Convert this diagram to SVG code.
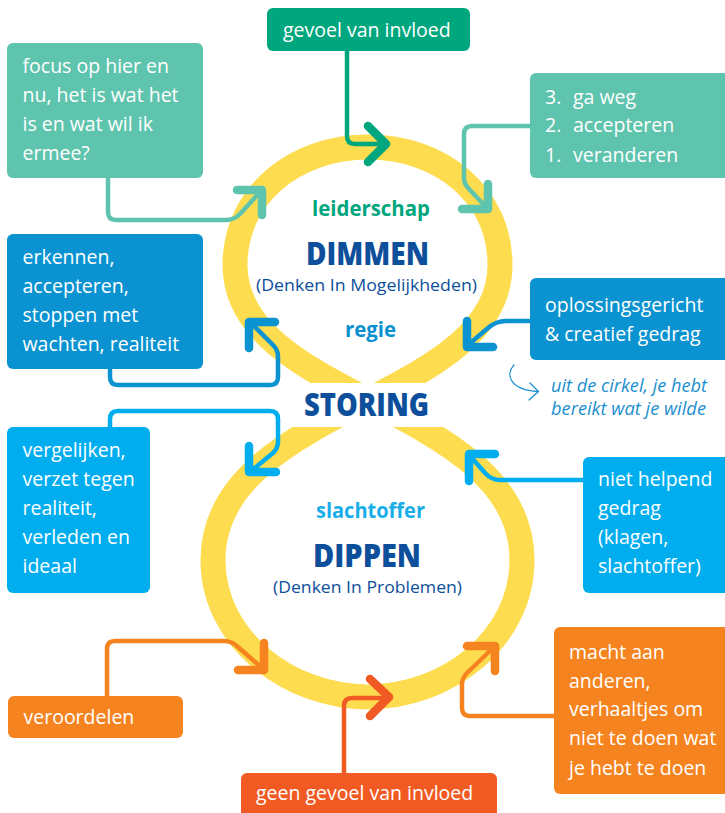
<svg xmlns="http://www.w3.org/2000/svg" width="725" height="813" viewBox="0 0 725 813">
<style>
text{font-family:"Open Sans","Noto Sans",sans-serif}
.bt{fill:#fff;font-size:19.5px;font-weight:500}
.ring{fill:none;stroke:#fddd4f;stroke-width:25}
.ln{fill:none;stroke-width:4.5;stroke-linecap:round;stroke-linejoin:round}
.ch{fill:none;stroke-width:8.5;stroke-linecap:round;stroke-linejoin:round}
.title{fill:#0d4f9b;font-weight:800;font-size:31px;text-anchor:middle}
.sub{fill:#0d4f9b;font-size:17px;font-weight:500;text-anchor:middle}
.lab{font-weight:bold;font-size:20.5px;text-anchor:middle}
.note{fill:#1b8fd0;font-style:italic;font-size:17.5px}
.green{stroke:#00a67d}.teal{stroke:#5fc4ad}.blue{stroke:#0a93d0}.lblue{stroke:#00aeef}.orange{stroke:#f58420}.red{stroke:#f15a22}
</style>
<rect width="725" height="813" fill="#fff"/>
<g id="ring">
<path class="ring" d="M368,400 C300,365 235,330 235,265 C235,195 295,147 368,147 C441,147 500,195 500,265 C500,330 436,365 368,400 Z"/>
<path class="ring" d="M368,400 C290,440 213,480 213,560 C213,640 290,697 368,697 C446,697 522,640 522,560 C522,480 446,440 368,400 Z"/>
<rect x="288" y="383" width="160" height="44" fill="#fff"/>
</g>
<g id="connectors">
<path class="ln green" d="M347,51 V136 Q347,144 355,144 H384"/>
<path class="ch green" d="M368,126 L386,144 L368,162"/>
<path class="ln teal" d="M108,178 V212 Q108,220 116,220 H226 Q234,220 240,214 L260,192"/>
<path class="ch teal" d="M237,190 L262,190 L262,215"/>
<path class="ln teal" d="M530,126 H472 Q464,126 464,134 V178 Q464,184 469,189 L486,207"/>
<path class="ch teal" d="M488,184 L488,209 L462,209"/>
<path class="ln blue" d="M110,369 V377 Q110,385 118,385 H270 Q278,385 278,377 V356 Q278,350 273,345 L251,323"/>
<path class="ch blue" d="M275,322 L249,322 L249,348"/>
<path class="ln blue" d="M530,321 H506 Q496,321 488,328 L468,345"/>
<path class="ch blue" d="M467,321 L467,347 L493,347"/>
<path class="ln lblue" d="M110,427 V419 Q110,411 118,411 H270 Q278,411 278,419 V442 Q278,448 273,453 L251,471"/>
<path class="ch lblue" d="M249,446 L249,472 L276,472"/>
<path class="ln lblue" d="M583,480 H500 Q492,480 486,474 L470,456"/>
<path class="ch lblue" d="M469,481 L469,454 L495,454"/>
<path class="ln orange" d="M107,696 V649 Q107,641 115,641 H224 Q232,641 238,647 L262,668"/>
<path class="ch orange" d="M264,643 L264,670 L238,670"/>
<path class="ln red" d="M344,773 V706 Q344,698 352,698 H388"/>
<path class="ch red" d="M370,679 L389,697 L370,716"/>
<path class="ln orange" d="M554,716 H470 Q462,716 462,708 V684 Q462,678 467,673 L493,648"/>
<path class="ch orange" d="M467,646 L495,646 L495,671"/>
<path d="M514,365 C505,375 510,390 538,391.5" fill="none" stroke="#1b8fd0" stroke-width="1.3" stroke-linecap="round"/>
<path d="M530,383 L538.5,391.5 L529,400" fill="none" stroke="#1b8fd0" stroke-width="1.3" stroke-linecap="round" stroke-linejoin="round"/>
</g>
<g id="center">
<text class="lab" x="371" y="216" fill="#00a67d" textLength="118" lengthAdjust="spacingAndGlyphs">leiderschap</text>
<text class="title" x="367.5" y="265" textLength="123" lengthAdjust="spacingAndGlyphs">DIMMEN</text>
<text class="sub" x="366.5" y="290.5" textLength="221" lengthAdjust="spacingAndGlyphs">(Denken In Mogelijkheden)</text>
<text class="lab" x="370.5" y="336.5" fill="#0a8fd0" textLength="51" lengthAdjust="spacingAndGlyphs">regie</text>
<text class="title" x="366.5" y="416" textLength="125" lengthAdjust="spacingAndGlyphs">STORING</text>
<text class="lab" x="370.5" y="518" fill="#1aaee8" textLength="109" lengthAdjust="spacingAndGlyphs">slachtoffer</text>
<text class="title" x="367" y="567" textLength="108" lengthAdjust="spacingAndGlyphs">DIPPEN</text>
<text class="sub" x="367.5" y="592.5" textLength="189" lengthAdjust="spacingAndGlyphs">(Denken In Problemen)</text>
</g>
<g id="gevoel">
<rect x="267" y="8" width="203" height="43" rx="6" fill="#00a67d"/>
<text class="bt" x="283" y="36.5">gevoel van invloed</text>
</g>
<g id="focus">
<rect x="7" y="43" width="196" height="135" rx="6" fill="#5fc4ad"/>
<text class="bt" x="22.5" y="72.5">focus op hier en</text>
<text class="bt" x="22.5" y="101.5">nu, het is wat het</text>
<text class="bt" x="22.5" y="131">is en wat wil ik</text>
<text class="bt" x="22.5" y="160">ermee?</text>
</g>
<g id="opties">
<rect x="530" y="73" width="200" height="105" rx="6" fill="#5fc4ad"/>
<text class="bt" x="545" y="103.5">3.</text><text class="bt" x="573" y="103.5">ga weg</text>
<text class="bt" x="545" y="132">2.</text><text class="bt" x="573" y="132">accepteren</text>
<text class="bt" x="545" y="161.5">1.</text><text class="bt" x="573" y="161.5">veranderen</text>
</g>
<g id="erkennen">
<rect x="7" y="234" width="196" height="135" rx="6" fill="#0a93d0"/>
<text class="bt" x="22.5" y="263.5">erkennen,</text>
<text class="bt" x="22.5" y="292.5">accepteren,</text>
<text class="bt" x="22.5" y="322">stoppen met</text>
<text class="bt" x="22.5" y="351">wachten, realiteit</text>
</g>
<g id="oplossing">
<rect x="530" y="278" width="200" height="82" rx="6" fill="#0a93d0"/>
<text class="bt" x="545" y="311.5">oplossingsgericht</text>
<text class="bt" x="545" y="341">&amp; creatief gedrag</text>
</g>
<g id="notitie">
<text class="note" x="551" y="391.5" textLength="156" lengthAdjust="spacingAndGlyphs">uit de cirkel, je hebt</text>
<text class="note" x="551" y="415" textLength="155" lengthAdjust="spacingAndGlyphs">bereikt wat je wilde</text>
</g>
<g id="vergelijken">
<rect x="7" y="427" width="143" height="166" rx="6" fill="#00aeef"/>
<text class="bt" x="22.5" y="456.5">vergelijken,</text>
<text class="bt" x="22.5" y="486">verzet tegen</text>
<text class="bt" x="22.5" y="514.5">realiteit,</text>
<text class="bt" x="22.5" y="543.5">verleden en</text>
<text class="bt" x="22.5" y="573">ideaal</text>
</g>
<g id="niethelpend">
<rect x="583" y="457" width="147" height="136" rx="6" fill="#00aeef"/>
<text class="bt" x="598" y="486">niet helpend</text>
<text class="bt" x="598" y="515">gedrag</text>
<text class="bt" x="598" y="544">(klagen,</text>
<text class="bt" x="598" y="573">slachtoffer)</text>
</g>
<g id="veroordelen">
<rect x="8" y="696" width="175" height="42" rx="6" fill="#f58420"/>
<text class="bt" x="23.5" y="723.5">veroordelen</text>
</g>
<g id="geengevoel">
<rect x="241" y="773" width="256" height="50" rx="6" fill="#f15a22"/>
<text class="bt" x="256" y="799.5">geen gevoel van invloed</text>
</g>
<g id="macht">
<rect x="554" y="627" width="176" height="167" rx="6" fill="#f58420"/>
<text class="bt" x="569" y="658.5">macht aan</text>
<text class="bt" x="569" y="687.5">anderen,</text>
<text class="bt" x="569" y="716">verhaaltjes om</text>
<text class="bt" x="569" y="745">niet te doen wat</text>
<text class="bt" x="569" y="774.5">je hebt te doen</text>
</g>
</svg>
